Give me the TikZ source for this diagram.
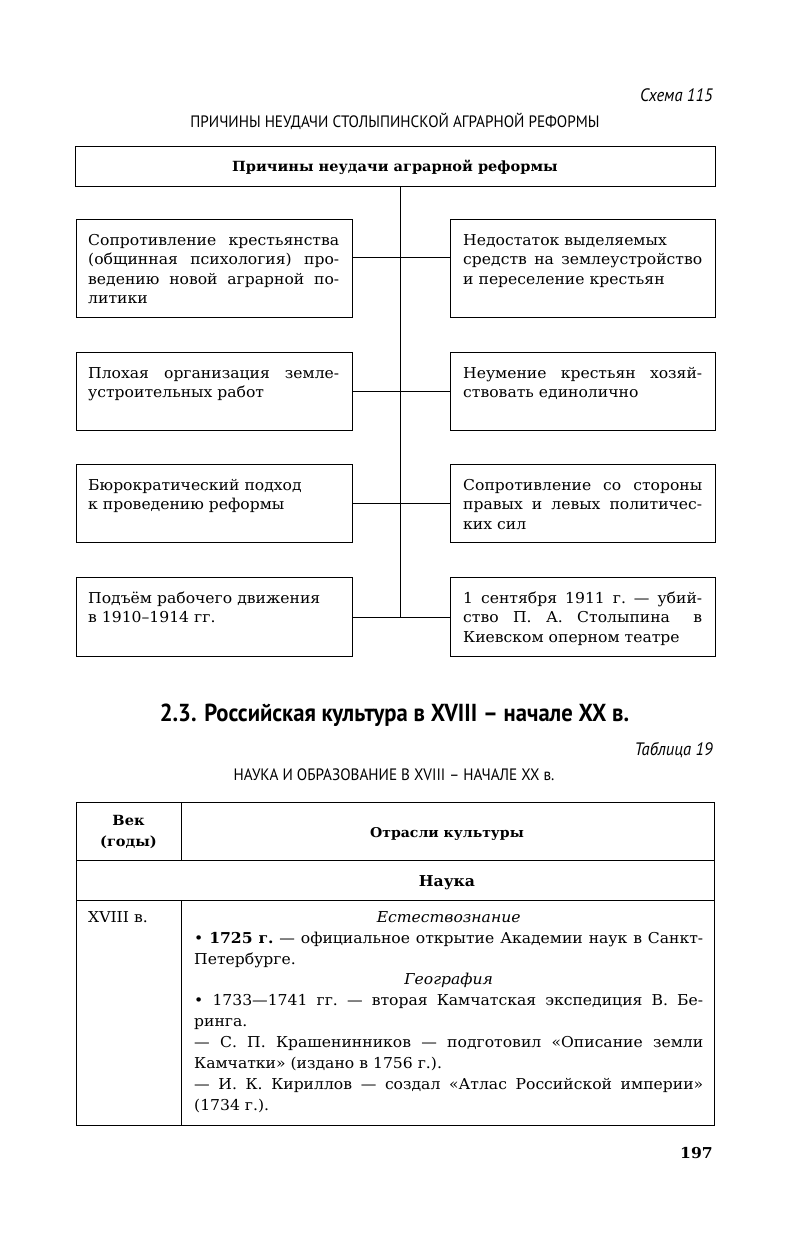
\documentclass[tikz,border=0pt]{standalone}
\usepackage{fontspec}
\setmainfont{DejaVu Serif}[FakeStretch=1.04]
\newfontfamily\hsans[FakeStretch=0.92]{PT Sans}
\usetikzlibrary{calc}
\newcommand\bodyfont{\fontsize{15}{19.5}\selectfont}
\newcommand\tabfont{\fontsize{15}{20.9}\selectfont}
\newcommand\JJ[2]{\leavevmode\hbox to #1{\spaceskip=0.25em plus 1fil\xspaceskip=\spaceskip #2}}
\newcommand\JL[1]{\JJ{251pt}{#1}}
\newcommand\JR[1]{\JJ{239pt}{#1}}
\newcommand\JT[1]{\JJ{509pt}{#1}}
\newcommand\CT[1]{\leavevmode\hbox to 509pt{\hfil #1\hfil}}
\begin{document}
\begin{tikzpicture}[x=1pt,y=-1pt,
  box/.style={draw, line width=1.1pt, anchor=north west, inner sep=0pt},
  txt/.style={anchor=north west, inner sep=0pt, align=left, font=\bodyfont},
  ttxt/.style={anchor=north west, inner sep=0pt, align=left, font=\tabfont},
  conn/.style={line width=1pt},
  smallhd/.style={font=\hsans\fontsize{16.5}{19}\selectfont, inner sep=0pt},
  captxt/.style={font=\hsans\itshape\fontsize{18}{20}\selectfont, inner sep=0pt, anchor=base east}]
\useasboundingbox (0,0) rectangle (791,1245);
% page headings
\node[captxt] (schema) at (713,101) {Схема 115};
\node[smallhd, anchor=base] (title1) at (395,127.5) {ПРИЧИНЫ НЕУДАЧИ СТОЛЫПИНСКОЙ АГРАРНОЙ РЕФОРМЫ};
% top box
\node[box, minimum width=640pt, minimum height=40pt] (top) at (75,146) {};
\node[inner sep=0pt, anchor=base, font=\fontsize{14}{18}\selectfont\bfseries] (toptxt) at (395,171) {Причины неудачи аграрной реформы};
% left boxes
\node[box, minimum width=276pt, minimum height=98pt] (l1) at (76,219) {};
\node[box, minimum width=276pt, minimum height=78pt] (l2) at (76,352) {};
\node[box, minimum width=276pt, minimum height=78pt] (l3) at (76,464) {};
\node[box, minimum width=276pt, minimum height=79pt] (l4) at (76,577) {};
% right boxes
\node[box, minimum width=265pt, minimum height=98pt] (r1) at (450,219) {};
\node[box, minimum width=265pt, minimum height=78pt] (r2) at (450,352) {};
\node[box, minimum width=265pt, minimum height=78pt] (r3) at (450,464) {};
\node[box, minimum width=265pt, minimum height=79pt] (r4) at (450,577) {};
% texts
\node[txt, text width=251pt] (l1t) at (88,231.4) {\strut\JL{Сопротивление крестьянства}\\\JL{(общинная психология) про-}\\\JL{ведению новой аграрной по-}\\литики};
\node[txt, text width=251pt] (l2t) at (88,364.4) {\strut\JL{Плохая организация земле-}\\устроительных работ};
\node[txt, text width=251pt] (l3t) at (88,476.4) {\strut Бюрократический подход\\к проведению реформы};
\node[txt, text width=251pt] (l4t) at (88,589.4) {\strut Подъём рабочего движения\\в 1910–1914 гг.};
\node[txt, text width=239pt] (r1t) at (463,231.4) {\strut Недостаток выделяемых\\\JR{средств на землеустройство}\\и переселение крестьян};
\node[txt, text width=239pt] (r2t) at (463,364.4) {\strut\JR{Неумение крестьян хозяй-}\\ствовать единолично};
\node[txt, text width=239pt] (r3t) at (463,476.4) {\strut\JR{Сопротивление со стороны}\\\JR{правых и левых политичес-}\\ких сил};
\node[txt, text width=239pt] (r4t) at (463,589.4) {\strut\JR{1 сентября 1911 г. — убий-}\\\JR{ство П. А. Столыпина \hskip 0.6em в}\\Киевском оперном театре};
% connectors
\coordinate (trunktop) at ($(top.south west)+(325,0)$);
\coordinate (trunkend) at (trunktop |- l4.east);
\draw[conn] (trunktop) -- (trunkend);
\draw[conn] ($(l1.north east)!0.388!(l1.south east)$) -- ($(r1.north west)!0.388!(r1.south west)$);
\draw[conn] (l2.east) -- (r2.west);
\draw[conn] (l3.east) -- (r3.west);
\draw[conn] (l4.east) -- (r4.west);
% section heading
\node[inner sep=0pt, anchor=base, font=\hsans\bfseries\fontsize{24.6}{28}\selectfont] (sec) at (394.5,721) {2.3. Российская культура в XVIII – начале XX в.};
\node[captxt] (tabno) at (713,755) {Таблица 19};
\node[smallhd, anchor=base] (title2) at (394,780) {НАУКА И ОБРАЗОВАНИЕ В XVIII – НАЧАЛЕ XX в.};
% table
\node[box, minimum width=638pt, minimum height=323pt] (tbl) at (76,802) {};
\coordinate (c1) at ($(tbl.north west)+(105,0)$);
\coordinate (h1) at ($(tbl.north west)+(0,58)$);
\coordinate (h2) at ($(tbl.north west)+(0,98)$);
\draw[conn] (h1) -- (h1 -| tbl.east);
\draw[conn] (h2) -- (h2 -| tbl.east);
\draw[conn] (c1) -- (c1 |- h1);
\draw[conn] (c1 |- h2) -- (c1 |- tbl.south);
\node[inner sep=0pt, align=center, anchor=north, font=\fontsize{14}{20.9}\selectfont\bfseries] (vek) at (128.5,810.4) {\strut Век\\(годы)};
\node[inner sep=0pt, anchor=base, font=\fontsize{13.5}{20}\selectfont\bfseries] (otr) at (447,837) {Отрасли культуры};
\node[inner sep=0pt, anchor=base, font=\fontsize{15}{20}\selectfont\bfseries] (nauka) at (447,886) {Наука};
\node[ttxt] (xviii) at (88,907.4) {\strut XVIII в.};
\node[ttxt, text width=509pt] (body) at (194,907.4) {\strut\CT{\itshape Естествознание}\\
\JT{• \textbf{1725 г.} — официальное открытие Академии наук в Санкт-}\\
Петербурге.\\
\CT{\itshape География}\\
\JT{• 1733—1741 гг. — вторая Камчатская экспедиция В. Бе-}\\
ринга.\\
\JT{— С. П. Крашенинников — подготовил «Описание земли}\\
Камчатки» (издано в 1756 г.).\\
\JT{— И. К. Кириллов — создал «Атлас Российской империи»}\\
(1734 г.).};
\node[inner sep=0pt, anchor=base east, font=\fontsize{15}{18}\selectfont\bfseries] (page) at (713,1158) {197};
\end{tikzpicture}
\end{document}
